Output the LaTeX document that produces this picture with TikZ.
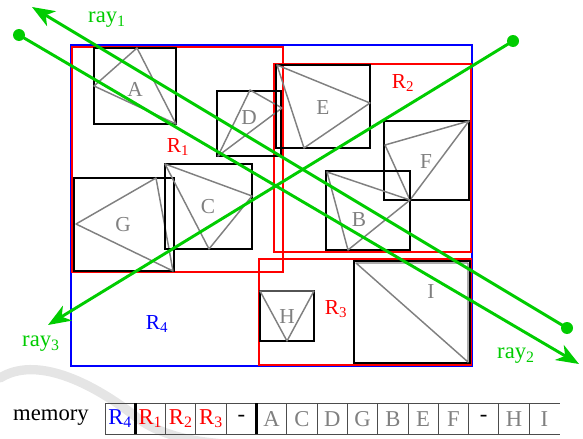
\documentclass[tikz,border=0pt]{standalone}
\usepackage{fontspec}
\setmainfont{Liberation Serif}
\usepackage{xcolor}
\usetikzlibrary{arrows.meta}

\definecolor{raygreen}{RGB}{0,204,0}
\definecolor{objgray}{RGB}{128,128,128}

\begin{document}
\begin{tikzpicture}[x=0.75pt, y=-0.75pt,
  objbox/.style={draw=black, line width=1.5pt},
  tri/.style={draw=objgray, line width=1.1pt, line join=round},
  objlabel/.style={text=objgray, font=\fontsize{16}{18}\selectfont, inner sep=0pt},
  region/.style={line width=1.1pt},
  reglabel/.style={font=\fontsize{16}{18}\selectfont, inner sep=0pt},
  ray/.style={draw=raygreen, line width=2.2pt, -{Stealth[length=17pt, width=13pt, inset=5pt]}},
  raydot/.style={circle, fill=raygreen, inner sep=0pt, minimum size=9pt},
  raylabel/.style={text=raygreen, font=\fontsize{17}{18}\selectfont, inner sep=0pt},
  celltext/.style={font=\fontsize{17}{18}\selectfont, inner sep=0pt},
  cellline/.style={draw=black!70, line width=0.7pt}]
  \useasboundingbox (0,0) rectangle (583,439);

  % Faint swoosh in the background
  \draw[black!10, line width=7pt, line cap=round] (0,378) .. controls (35,356) and (90,380) .. (140,420) .. controls (170,440) and (210,445) .. (260,445);

  % Regions
  \draw[region, blue] (71,45) rectangle (472,366);
  \draw[region, red] (72,47) rectangle (283,272);
  \draw[region, red] (274,64) rectangle (471,252);
  \draw[region, red] (259,259) rectangle (471,365);
  \node[reglabel, red] (R1) at (178,147) {R\textsubscript{1}};
  \node[reglabel, red] (R2) at (403,83) {R\textsubscript{2}};
  \node[reglabel, red] (R3) at (336,309) {R\textsubscript{3}};
  \node[reglabel, blue] (R4) at (157,324) {R\textsubscript{4}};

  % Objects: bounding boxes with their triangles
  \draw[objbox] (94,48) rectangle (176,124);
  \draw[tri] (137,48) -- (94,86) -- (176,124) -- cycle;
  \node[objlabel] (A) at (135,89) {A};

  \draw[objbox] (217,91) rectangle (281,156);
  \draw[tri] (250,90) -- (282,108) -- (218,156) -- cycle;
  \node[objlabel] (D) at (249,118) {D};

  \draw[objbox] (74,178) rectangle (174,271);
  \draw[tri] (76,224) -- (156,178) -- (173,271) -- cycle;
  \node[objlabel] (G) at (123,225) {G};

  \draw[objbox] (165,164) rectangle (252,249);
  \draw[tri] (165,164) -- (252,196) -- (209,249) -- cycle;
  \node[objlabel] (C) at (208,207) {C};

  \draw[objbox] (276,65) rectangle (370,148);
  \draw[tri] (277,65) -- (370,103) -- (304,148) -- cycle;
  \node[objlabel] (E) at (323,108) {E};

  \draw[objbox] (384,121) rectangle (469,200);
  \draw[tri] (469,121) -- (385,145) -- (410,200) -- cycle;
  \node[objlabel] (F) at (426,162) {F};

  \draw[objbox] (326,171) rectangle (410,250);
  \draw[tri] (327,172) -- (410,200) -- (348,250) -- cycle;
  \node[objlabel] (B) at (359,220) {B};

  \draw[objbox] (260,291) rectangle (314,341);
  \draw[tri] (260,291) -- (314,291) -- (287,341) -- cycle;
  \node[objlabel] (H) at (287,317) {H};

  \draw[objbox] (354,261) rectangle (470,363);
  \draw[tri] (356,263) -- (468,263) -- (468,362) -- cycle;
  \node[objlabel] (I) at (431,292) {I};

  % Rays
  \coordinate (ray1start) at (567,328);
  \coordinate (ray1end) at (32,7);
  \coordinate (ray2start) at (19,35);
  \coordinate (ray2end) at (579,364);
  \coordinate (ray3start) at (513,41);
  \coordinate (ray3end) at (48,325);
  \draw[ray] (ray1start) -- (ray1end);
  \draw[ray] (ray2start) -- (ray2end);
  \draw[ray] (ray3start) -- (ray3end);
  \node[raydot] at (ray1start) {};
  \node[raydot] at (ray2start) {};
  \node[raydot] at (ray3start) {};
  \node[raylabel] (ray1) at (107,20) {ray\textsubscript{1}};
  \node[raylabel] (ray2) at (516,356) {ray\textsubscript{2}};
  \node[raylabel] (ray3) at (41,344) {ray\textsubscript{3}};

  % Memory layout
  \node[celltext] (memory) at (51,418) {memory};
  \draw[cellline] (105,403.3) -- (559.5,403.3);
  \draw[cellline] (105,434) -- (559.5,434);
  \foreach \i in {0,...,14}
    \draw[cellline] ({105+30.3*\i},403.3) -- ++(0,30.7);
  \draw[line width=2.2pt] (135.3,403.3) -- (135.3,434);
  \draw[line width=2.2pt] (256.2,403.3) -- (256.2,434);
  \foreach \t/\c [count=\i from 0] in {R\textsubscript{4}/blue, R\textsubscript{1}/red, R\textsubscript{2}/red, R\textsubscript{3}/red, -/black, A/objgray, C/objgray, D/objgray, G/objgray, B/objgray, E/objgray, F/objgray, -/black, H/objgray, I/objgray}
    \node[celltext, text=\c] (m\i) at ({120.15+30.3*\i},418.7) {\t};
\end{tikzpicture}
\end{document}
